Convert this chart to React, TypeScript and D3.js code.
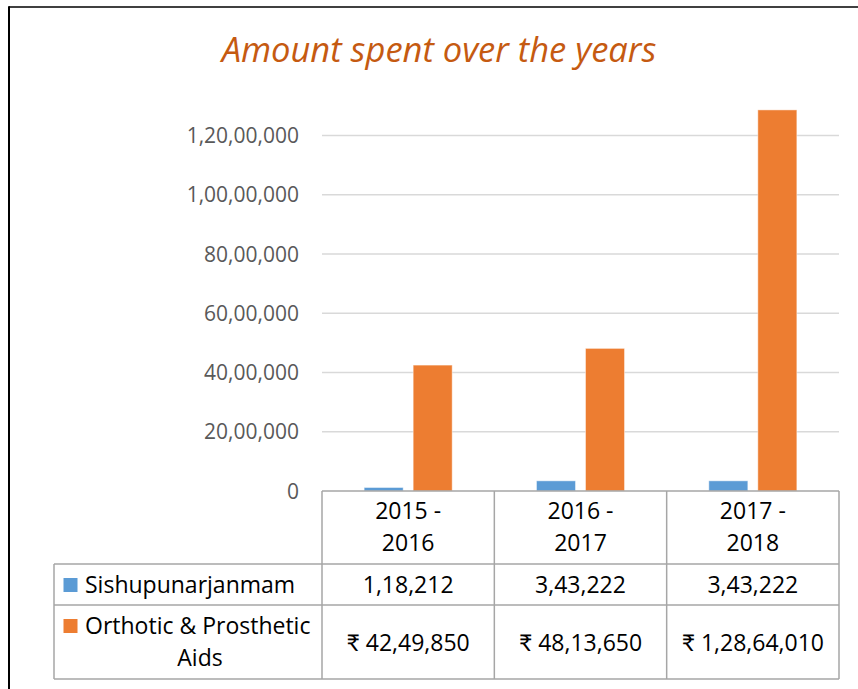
import React from "react";
import * as d3 from "d3";

const categories: string[][] = [
  ["2015 -", "2016"],
  ["2016 -", "2017"],
  ["2017 -", "2018"],
];
const seriesNames: string[][] = [["Sishupunarjanmam"], ["Orthotic & Prosthetic", "Aids"]];
const sishupunarjanmam: number[] = [118212, 343222, 343222];
const orthotic: number[] = [4249850, 4813650, 12864010];
const yTicks: number[] = [0, 2000000, 4000000, 6000000, 8000000, 10000000, 12000000];
const colors = ["#5B9BD5", "#ED7D31"];

function indian(n: number): string {
  const s = Math.round(n).toString();
  if (s.length <= 3) return s;
  const last3 = s.slice(-3);
  let rest = s.slice(0, -3);
  const parts: string[] = [];
  while (rest.length > 2) {
    parts.unshift(rest.slice(-2));
    rest = rest.slice(0, -2);
  }
  if (rest.length) parts.unshift(rest);
  return parts.join(",") + "," + last3;
}

const W = 858;
const H = 689;
const FONT = "'Open Sans', Lato, sans-serif";

export default function App() {
  const x0 = 322;
  const x1 = 839;
  const yBase = 491;
  const series = [sishupunarjanmam, orthotic];
  const x = d3.scaleBand<number>().domain(d3.range(categories.length)).range([x0, x1]).padding(0);
  const inner = d3
    .scaleBand<number>()
    .domain([0, 1])
    .range([0, x.bandwidth()])
    .paddingInner(0.204)
    .paddingOuter(0.86);
  const y = d3.scaleLinear().domain([0, 12000000]).range([yBase, 135.5]);

  const rowTop = 491;
  const rowH1 = 564;
  const rowH2 = 605;
  const rowBottom = 679;
  const legendLeft = 54;
  const gridColor = "#D9D9D9";
  const tableColor = "#A6A6A6";
  const fs = 21;
  const tfs = 23;

  return (
    <svg
      width={W}
      height={H}
      style={{ position: "absolute", left: 0, top: 0, background: "#fff" }}
      fontFamily={FONT}
    >
      {/* frame */}
      <line x1={9} y1={7} x2={W} y2={7} stroke="#000" strokeWidth={1.5} />
      <line x1={9} y1={6.25} x2={9} y2={H} stroke="#000" strokeWidth={2} />

      {/* title */}
      <text x={439} y={62} textAnchor="middle" fontSize={34.5} fontStyle="italic" fill="#C55A11">
        Amount spent over the years
      </text>

      {/* gridlines */}
      {yTicks
        .filter((t) => t > 0)
        .map((t) => (
          <line key={t} x1={x0} x2={x1} y1={y(t)} y2={y(t)} stroke={gridColor} strokeWidth={1.5} />
        ))}
      {/* y tick labels */}
      {yTicks.map((t) => (
        <text key={t} x={299} y={y(t)} dy="0.36em" textAnchor="end" fontSize={fs} fill="#595959">
          {indian(t)}
        </text>
      ))}

      {/* bars */}
      {series.map((vals, si) =>
        vals.map((v, ci) => (
          <rect
            key={`${si}-${ci}`}
            x={(x(ci) as number) + (inner(si) as number)}
            y={y(v)}
            width={inner.bandwidth()}
            height={yBase - y(v)}
            fill={colors[si]}
            stroke="#fff"
            strokeOpacity={0.45}
            strokeWidth={1}
          />
        ))
      )}

      {/* data table */}
      <g stroke={tableColor} strokeWidth={1.5} fill="none">
        <line x1={x0} x2={x1} y1={rowTop} y2={rowTop} />
        <line x1={legendLeft} x2={x1} y1={rowH1} y2={rowH1} />
        <line x1={legendLeft} x2={x1} y1={rowH2} y2={rowH2} />
        <line x1={legendLeft} x2={x1} y1={rowBottom} y2={rowBottom} />
        <line x1={legendLeft} x2={legendLeft} y1={rowH1} y2={rowBottom} />
        {d3.range(categories.length + 1).map((i) => {
          const xx = i < categories.length ? (x(i) as number) : x1;
          return <line key={i} x1={xx} x2={xx} y1={rowTop} y2={rowBottom} />;
        })}
      </g>

      {/* header labels */}
      {categories.map((lines, ci) => (
        <text key={ci} x={(x(ci) as number) + x.bandwidth() / 2} textAnchor="middle" fontSize={tfs} fill="#000">
          {lines.map((l, li) => (
            <tspan key={li} x={(x(ci) as number) + x.bandwidth() / 2} y={519 + li * 32}>
              {l}
            </tspan>
          ))}
        </text>
      ))}

      {/* legend row labels */}
      <rect x={63.5} y={578} width={14} height={14} fill={colors[0]} />
      <text x={85} y={593} fontSize={tfs} fill="#000">
        {seriesNames[0][0]}
      </text>
      <rect x={63.5} y={619} width={14} height={14} fill={colors[1]} />
      <text x={85} y={634} fontSize={tfs} fill="#000">
        {seriesNames[1][0]}
      </text>
      <text x={200} y={666} textAnchor="middle" fontSize={tfs} fill="#000">
        {seriesNames[1][1]}
      </text>

      {/* values */}
      {sishupunarjanmam.map((v, ci) => (
        <text key={ci} x={(x(ci) as number) + x.bandwidth() / 2} y={593} textAnchor="middle" fontSize={tfs} fill="#000">
          {indian(v)}
        </text>
      ))}
      {orthotic.map((v, ci) => (
        <text key={ci} x={(x(ci) as number) + x.bandwidth() / 2} y={651} textAnchor="middle" fontSize={tfs} fill="#000">
          {"₹ " + indian(v)}
        </text>
      ))}
    </svg>
  );
}
